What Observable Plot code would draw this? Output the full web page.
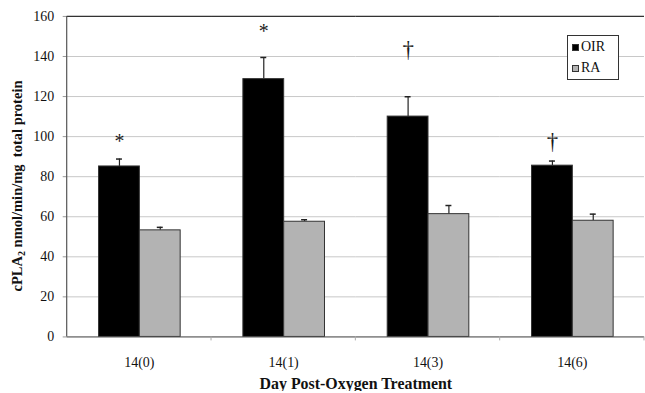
<!DOCTYPE html>
<html>
<head>
<meta charset="utf-8">
<script src="https://cdn.jsdelivr.net/npm/d3@7"></script>
<script src="https://cdn.jsdelivr.net/npm/@observablehq/plot@0.6"></script>
<style>
  html, body { margin: 0; padding: 0; background: #fff; overflow: hidden; }
  #wrap { position: relative; width: 645px; height: 393px; overflow: hidden; font-family: "Liberation Serif", "Times New Roman", Times, serif; }
  #chart { position: absolute; left: 0; top: 0; }
  #ytitle { position: absolute; left: 17px; top: 186px; transform: translate(-50%, -50%) rotate(-90deg); white-space: nowrap; font-weight: bold; font-size: 14.5px; color: #111; }
  #ytitle sub { font-size: 10px; vertical-align: -3px; line-height: 0; }
  #legend { position: absolute; left: 567px; top: 35px; width: 52px; height: 45px; border: 1px solid #333; background: #fff; box-sizing: border-box; font-size: 14px; color: #111; }
  .li { position: absolute; left: 4px; display: flex; align-items: center; gap: 2px; line-height: 1; }
  .sw { width: 7px; height: 7px; box-sizing: border-box; border: 1px solid #333; }
</style>
</head>
<body>
<div id="wrap">
  <div id="chart"></div>
  <div id="ytitle">cPLA<sub>2</sub> nmol/min/mg&nbsp; total protein</div>
  <div id="legend"></div>
</div>
<script>
const days = ["14(0)", "14(1)", "14(3)", "14(6)"];
const seriesNames = ["OIR", "RA"];
const seriesColors = ["#000000", "#b3b3b3"];
const oirMean = [85.1, 128.7, 110.0, 85.5];
const oirErr = [3.7, 10.8, 9.9, 2.3];
const raMean = [53.2, 57.5, 61.3, 58.0];
const raErr = [1.5, 1.0, 4.3, 3.3];
const sigMarks = ["*", "*", "†", "†"];
const sigY = [97.6, 152.2, 143.5, 97.5];
const yTicks = [0, 20, 40, 60, 80, 100, 120, 140, 160];
const xTitle = "Day Post-Oxygen Treatment";

const rows = [];
days.forEach((d, i) => {
  rows.push({day: d, series: "OIR", mean: oirMean[i], err: oirErr[i]});
  rows.push({day: d, series: "RA", mean: raMean[i], err: raErr[i]});
});
const sig = days.map((d, i) => ({day: d, series: "OIR", mark: sigMarks[i], y: sigY[i]}));

const FONT = "'Liberation Serif', 'Times New Roman', Times, serif";

const chart = Plot.plot({
  width: 648,
  height: 393,
  marginLeft: 65,
  marginRight: 0,
  marginTop: 16,
  marginBottom: 55,
  style: {fontFamily: FONT, fontSize: "14px", color: "#111", background: "transparent"},
  fx: {domain: days, padding: 0},
  x: {domain: seriesNames, paddingInner: 0, paddingOuter: 0.756, axis: null},
  y: {domain: [0, 160]},
  color: {domain: seriesNames, range: seriesColors},
  marks: [
    Plot.gridY(yTicks, {stroke: "#c8c8c8", strokeOpacity: 1, strokeWidth: 1}),
    Plot.axisY(yTicks, {tickSize: 4, tickPadding: 9, stroke: "#999", fill: "#111", label: null, fontSize: 14, fontFamily: FONT}),
    Plot.axisFx({anchor: "bottom", tickSize: 0, tickPadding: 20, fontSize: 14, fontFamily: FONT, fill: "#111", label: xTitle, labelAnchor: "center", labelOffset: 52, labelArrow: "none"}),
    Plot.ruleY([160], {stroke: "#333", strokeWidth: 1.3}),
    Plot.ruleX(rows, {fx: "day", x: "series", y1: "mean", y2: d => d.mean + d.err, stroke: "#222", strokeWidth: 1.2}),
    Plot.tickY(rows, {fx: "day", x: "series", y: d => d.mean + d.err, stroke: "#222", strokeWidth: 1.5, insetLeft: 17.5, insetRight: 17.5}),
    Plot.barY(rows, {fx: "day", x: "series", y: "mean", fill: "series", stroke: "#333", strokeWidth: 1}),
    Plot.ruleY([0], {stroke: "#555", strokeWidth: 1}),
    Plot.text(sig, {fx: "day", x: "series", y: "y", text: "mark", fontSize: d => d.mark === "*" ? 20 : 23, fontFamily: FONT, fill: "#1a1a1a"})
  ]
});
document.getElementById("chart").appendChild(chart);

// style the fx axis label as bold
d3.select(chart).selectAll("text").filter(function() { return this.textContent === xTitle; })
  .attr("font-weight", "bold").attr("font-size", 16);

// left axis line and band-boundary ticks derived from the library scales
const ys = chart.scale("y");
const fxs = chart.scale("fx");
const svg = d3.select(chart);
const y0 = ys.apply(0), y1 = ys.apply(160);
const bw = fxs.bandwidth;
const bounds = days.map(d => fxs.apply(d)).concat([fxs.apply(days[days.length - 1]) + bw]);
svg.append("line").attr("x1", bounds[0]).attr("x2", bounds[0]).attr("y1", y1).attr("y2", y0)
  .attr("stroke", "#555").attr("stroke-width", 1.2);
bounds.slice(1).forEach(b => {
  svg.append("line").attr("x1", b).attr("x2", b).attr("y1", y0).attr("y2", y0 + 4)
    .attr("stroke", "#aaa").attr("stroke-width", 1);
});

// legend
const leg = document.getElementById("legend");
seriesNames.forEach((s, i) => {
  const item = document.createElement("div");
  item.className = "li";
  item.style.top = (i === 0 ? 4 : 25) + "px";
  const sw = document.createElement("span");
  sw.className = "sw";
  sw.style.background = seriesColors[i];
  const t = document.createElement("span");
  t.textContent = s;
  item.appendChild(sw);
  item.appendChild(t);
  leg.appendChild(item);
});
</script>
</body>
</html>
